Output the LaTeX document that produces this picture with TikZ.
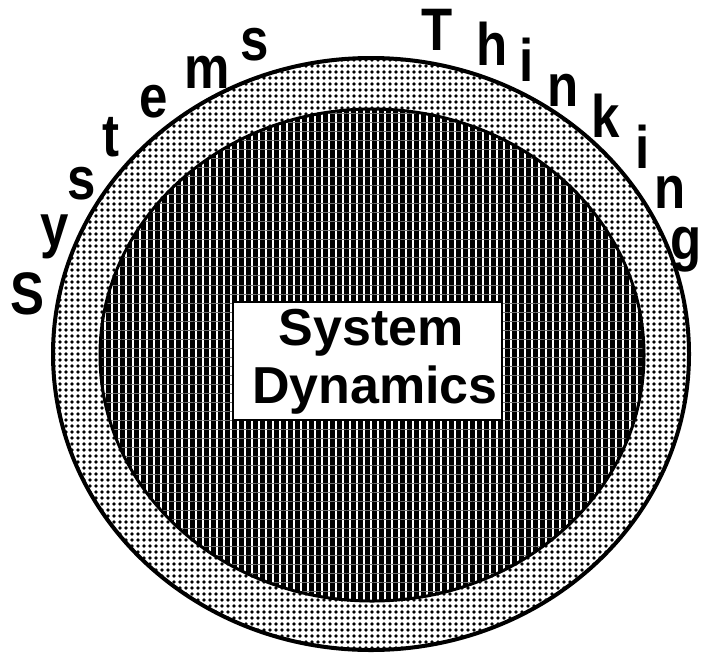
\documentclass[tikz,border=0pt]{standalone}
\usepackage{fontspec}
\setmainfont{Liberation Sans}
\usetikzlibrary{patterns.meta}
\begin{document}
\begin{tikzpicture}[x=1pt,y=-1pt,
  arcl/.style={font=\fontsize{60}{60}\selectfont\bfseries, inner sep=0pt, xscale=0.85},
  core/.style={font=\fontsize{52}{58}\selectfont\bfseries, inner sep=0pt, anchor=base}]
\useasboundingbox (0,0) rectangle (703,654);
\fill[white] (0,0) rectangle (703,654);
% outer dotted ring
\fill[white] (371,354) ellipse [x radius=318pt, y radius=296pt];
\path[pattern={Dots[radius=1.9pt,distance=6pt]}, pattern color=black] (371,354) ellipse [x radius=318pt, y radius=296pt];
\draw[line width=4pt] (371,354) ellipse [x radius=318pt, y radius=296pt];
% inner striped disc
\fill[black] (372,355) ellipse [x radius=272pt, y radius=246pt];
\path[pattern={Lines[angle=90,distance=7pt,line width=2pt]}, pattern color=white] (372,355) ellipse [x radius=272pt, y radius=246pt];
\path[pattern={Lines[angle=0,distance=9pt,line width=1pt]}, pattern color=black!55] (372,355) ellipse [x radius=272pt, y radius=246pt];
\draw[line width=3pt] (372,355) ellipse [x radius=272pt, y radius=246pt];
% centre box
\node[fill=white, draw=black, line width=2pt, minimum width=269pt, minimum height=118pt, inner sep=0pt] (box) at (367.5,361) {};
\node[core] (t1) at (371,345) {System};
\node[core] (t2) at (375,403) {Dynamics};
% arc letters
\node[arcl] (l1) at (28,294) {S};
\node[arcl] (l2) at (55,237) {y};
\node[arcl] (l3) at (82,184) {s};
\node[arcl] (l4) at (111,137) {t};
\node[arcl] (l5) at (154,102) {e};
\node[arcl] (l6) at (207,72) {m};
\node[arcl] (l7) at (255,45) {s};
\node[arcl] (l8) at (437,30) {T};
\node[arcl] (l9) at (492,44) {h};
\node[arcl] (l10) at (527,60) {i};
\node[arcl] (l11) at (563,90) {n};
\node[arcl] (l12) at (606,116) {k};
\node[arcl] (l13) at (643,147) {i};
\node[arcl] (l14) at (670,192) {n};
\node[arcl] (l15) at (686,250) {g};
\end{tikzpicture}
\end{document}
